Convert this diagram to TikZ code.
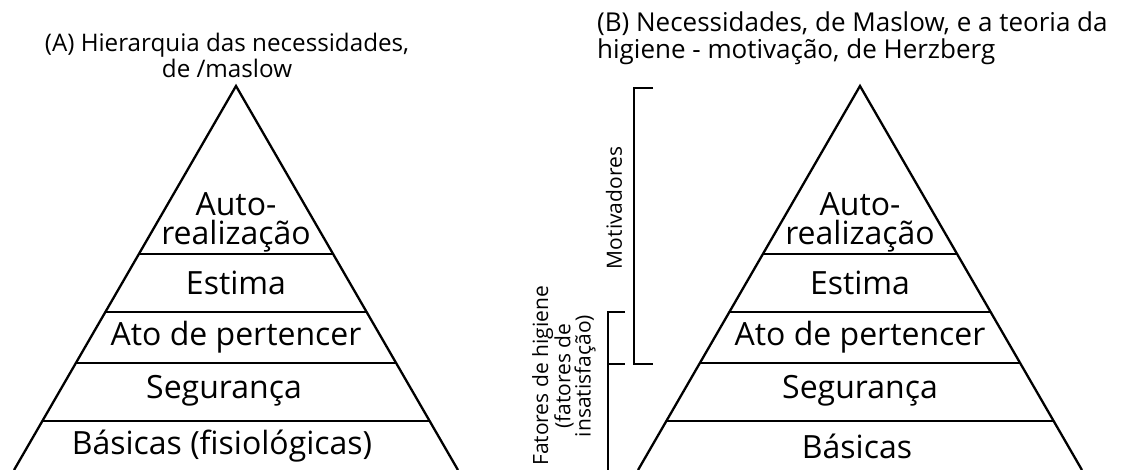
\documentclass[tikz,border=0pt]{standalone}
\usepackage{fontspec}
\setmainfont{Open Sans}
\usetikzlibrary{positioning}

\tikzset{
  titleA/.style={font=\fontsize{24.2}{26}\selectfont, inner sep=0pt},
  titleB/.style={font=\fontsize{26}{27}\selectfont, inner sep=0pt},
  level/.style={font=\fontsize{32}{29}\selectfont, inner sep=0pt},
  side/.style={font=\fontsize{21}{19}\selectfont, inner sep=0pt, rotate=90, align=center},
}

\begin{document}
\begin{tikzpicture}[x=1pt,y=-1pt,line width=2.3pt]
\useasboundingbox (0,0) rectangle (1122,470);
\pgfmathsetmacro{\apexy}{86}
\pgfmathsetmacro{\basey}{470}
\pgfmathsetmacro{\slope}{0.578}
% the two pyramids
\foreach \cx in {236,860}{%
	\pgfmathsetmacro{\hw}{\slope*(\basey-\apexy)}
	\draw[black] (\cx-\hw,\basey) -- (\cx,\apexy) -- (\cx+\hw,\basey);
	\foreach \ly in {254,312,363,421}{%
		\pgfmathsetmacro{\lw}{\slope*(\ly-\apexy)}
		\draw[black] (\cx-\lw,\ly) -- (\cx+\lw,\ly);
	}
}

% (A)
\node[titleA, align=center] (titleA) at (227,55) {(A) Hierarquia das necessidades,\\de /maslow};
\node[level, align=center] (autoA) at (236,222) {Auto-\\realização};
\node[level] (estimaA) at (236,283) {Estima};
\node[level] (atoA) at (236,337) {Ato de pertencer};
\node[level] (segA) at (224,391) {Segurança};
\node[level] (basA) at (222,446) {Básicas (fisiológicas)};

% (B)
\node[titleB, align=left, anchor=west] (titleB) at (596,38) {(B) Necessidades, de Maslow, e a teoria da\\higiene - motivação, de Herzberg};
\node[level, align=center] (autoB) at (860,222) {Auto-\\realização};
\node[level] (estimaB) at (860,283) {Estima};
\node[level] (atoB) at (860,337) {Ato de pertencer};
\node[level] (segB) at (860,391) {Segurança};
\node[level] (basB) at (857,446) {Básicas};

% brackets
\coordinate (motTop) at (634,88);
\coordinate (motBot) at (634,364);
\draw (motTop) ++(19,0) -- (motTop) -- (motBot) -- ++(19,0);
\coordinate (higTop) at (608,312);
\coordinate (higMid) at (608,364);
\coordinate (higBot) at (608,470);
\draw (higTop) ++(17,0) -- (higTop) -- (higBot);
\draw (higMid) -- ++(17,0);
\node[side] (motiv) at (614,208) {Motivadores};
\node[side] (fatores) at (564,376) {Fatores de higiene\\(fatores de\\insatisfação)};
\end{tikzpicture}
\end{document}
